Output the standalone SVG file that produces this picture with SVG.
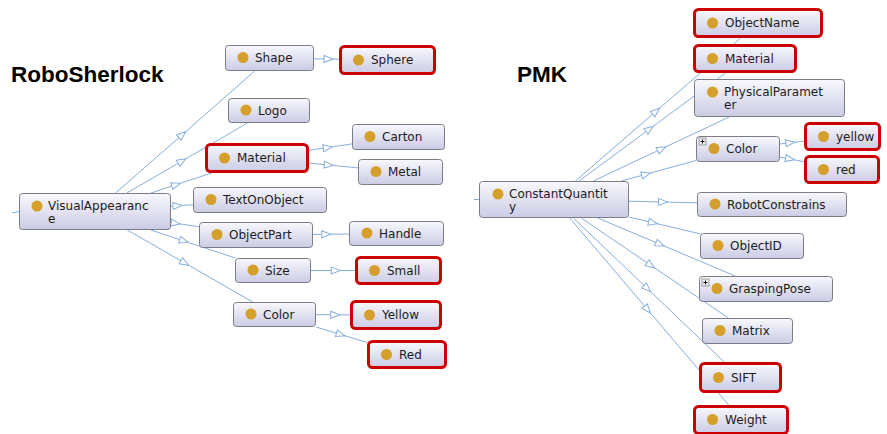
<svg xmlns="http://www.w3.org/2000/svg" width="887" height="434" viewBox="0 0 887 434">
  <defs>
    <linearGradient id="nodeFill" x1="0" y1="0" x2="0" y2="1">
      <stop offset="0" stop-color="#f8f8fd"/>
      <stop offset="1" stop-color="#cbcbe5"/>
    </linearGradient>
    <marker id="isa" markerUnits="userSpaceOnUse" viewBox="0 0 11 9" refX="5.5" refY="4.5" markerWidth="11" markerHeight="9" orient="auto">
      <path d="M1,1 L10,4.5 L1,8 Z" fill="#ffffff" stroke="#86aedb" stroke-width="1"/>
    </marker>
    <style>
      .title { font-family: "Liberation Sans", Arial, sans-serif; font-weight: bold; font-size: 22.5px; fill: #000; }
      .node rect.box { fill: url(#nodeFill); stroke: #7c7c86; stroke-width: 1; }
      .node rect.hl { fill: url(#nodeFill); stroke: #cc0000; stroke-width: 3; }
      .node circle { fill: #d4a02b; }
      .node text { font-family: "DejaVu Sans", Verdana, sans-serif; font-size: 12px; fill: #1c1c1c; }
      .plus rect { fill: #eeeeee; stroke: #8a8a8a; stroke-width: 0.8; }
      .plus path { stroke: #111; stroke-width: 1; fill: none; }
      #edges path { fill: none; stroke: #86aedb; stroke-width: 1; marker-mid: url(#isa); }
      #edges path.stub { marker-mid: none; }
    </style>
  </defs>

  <rect width="887" height="434" fill="#ffffff"/>

  <text class="title" x="11" y="82">RoboSherlock</text>
  <text class="title" x="517" y="82">PMK</text>

  <!-- subclass links: centre-to-centre lines clipped at the boxes, hollow head at the midpoint -->
  <g id="edges">
    <path class="stub" d="M12,213 L19,211.5"/>
    <path d="M115.6,193 L182.25,134.75 L254.6,71"/>
    <path d="M126.9,193 L182,161 L247.5,123"/>
    <path d="M151,193 L176,184.75 L211.6,173"/>
    <path d="M171,206.2 L177.5,205.75 L193,204.7"/>
    <path d="M171,222.6 L175.5,223.25 L199,226.7"/>
    <path d="M150.8,230 L184,241 L235.3,258"/>
    <path d="M127.3,230 L184.75,263 L252.7,302"/>
    <path d="M314,58.8 L328.5,59 L339,59.2"/>
    <path d="M309,150.3 L327.75,147.5 L352,143.9"/>
    <path d="M309,163.1 L328.75,165 L358,167.9"/>
    <path d="M313,234.4 L326.25,234.25 L349,234"/>
    <path d="M311,270.5 L335.75,270.5 L355,270.5"/>
    <path d="M316,314.7 L335.25,314.75 L350,314.9"/>
    <path d="M316,327 L340.75,334.5 L367,342.4"/>

    <path class="stub" d="M474,199.5 L479,199.5"/>
    <path d="M575.4,181 L656,111.25 L740.7,38"/>
    <path d="M579.1,181 L649.5,129 L725.4,73"/>
    <path d="M593.3,181 L661.75,148.75 L729.2,117"/>
    <path d="M621.4,181 L646,174.25 L696,160.5"/>
    <path d="M629,201.2 L663,202 L697,202.8"/>
    <path d="M629,217.1 L653,222.75 L700,233.8"/>
    <path d="M597.8,218 L660,244.25 L735.2,276"/>
    <path d="M581.2,218 L650.75,265.25 L728.4,318"/>
    <path d="M573.4,218 L647.25,288.5 L724.3,362"/>
    <path d="M569.7,218 L647.5,309.5 L728.7,405"/>
    <path d="M780,144 L790.25,142.75 L804,141.1"/>
    <path d="M780,157.1 L790,159 L804,161.7"/>
  </g>

  <!-- RoboSherlock classes -->
  <g id="VisualAppearance" class="node">
    <rect class="box" x="19.5" y="193.5" width="151" height="36" rx="3"/>
    <circle cx="37" cy="206" r="5.5"/>
    <text x="48" y="210">VisualAppearanc</text>
    <text x="48" y="222.5">e</text>
  </g>
  <g id="Shape" class="node">
    <rect class="box" x="225.5" y="45.5" width="88" height="25" rx="3"/>
    <circle cx="243" cy="57.5" r="5.5"/>
    <text x="255" y="62">Shape</text>
  </g>
  <g id="Sphere" class="node">
    <rect class="hl" x="340.5" y="46.5" width="94" height="27" rx="4"/>
    <circle cx="358.5" cy="60" r="5.5"/>
    <text x="371" y="64">Sphere</text>
  </g>
  <g id="Logo" class="node">
    <rect class="box" x="228.5" y="98.5" width="81" height="24" rx="3"/>
    <circle cx="246" cy="110" r="5.5"/>
    <text x="258" y="114.5">Logo</text>
  </g>
  <g id="Material" class="node">
    <rect class="hl" x="206.5" y="144.5" width="101" height="27" rx="4"/>
    <circle cx="224.5" cy="158" r="5.5"/>
    <text x="237" y="162">Material</text>
  </g>
  <g id="Carton" class="node">
    <rect class="box" x="352.5" y="124.5" width="92" height="25" rx="3"/>
    <circle cx="370" cy="136.5" r="5.5"/>
    <text x="382" y="141">Carton</text>
  </g>
  <g id="Metal" class="node">
    <rect class="box" x="358.5" y="159.5" width="84" height="25" rx="3"/>
    <circle cx="376" cy="171.5" r="5.5"/>
    <text x="388" y="176">Metal</text>
  </g>
  <g id="TextOnObject" class="node">
    <rect class="box" x="193.5" y="187.5" width="133" height="25" rx="3"/>
    <circle cx="211" cy="199.5" r="5.5"/>
    <text x="223" y="204">TextOnObject</text>
  </g>
  <g id="ObjectPart" class="node">
    <rect class="box" x="199.5" y="222.5" width="113" height="25" rx="3"/>
    <circle cx="217" cy="234.5" r="5.5"/>
    <text x="229" y="239">ObjectPart</text>
  </g>
  <g id="Handle" class="node">
    <rect class="box" x="349.5" y="221.5" width="94" height="24" rx="3"/>
    <circle cx="367" cy="233" r="5.5"/>
    <text x="379" y="237.5">Handle</text>
  </g>
  <g id="Size" class="node">
    <rect class="box" x="235.5" y="258.5" width="75" height="24" rx="3"/>
    <circle cx="253" cy="270" r="5.5"/>
    <text x="265" y="274.5">Size</text>
  </g>
  <g id="Small" class="node">
    <rect class="hl" x="356.5" y="257.5" width="84" height="26" rx="4"/>
    <circle cx="374.5" cy="270.5" r="5.5"/>
    <text x="387" y="274.5">Small</text>
  </g>
  <g id="Color" class="node">
    <rect class="box" x="233.5" y="302.5" width="82" height="24" rx="3"/>
    <circle cx="251" cy="314" r="5.5"/>
    <text x="263" y="318.5">Color</text>
  </g>
  <g id="Yellow" class="node">
    <rect class="hl" x="351.5" y="301.5" width="89" height="27" rx="4"/>
    <circle cx="369.5" cy="315" r="5.5"/>
    <text x="382" y="319">Yellow</text>
  </g>
  <g id="Red" class="node">
    <rect class="hl" x="368.5" y="341.5" width="77" height="26" rx="4"/>
    <circle cx="386.5" cy="354.5" r="5.5"/>
    <text x="399" y="358.5">Red</text>
  </g>

  <!-- PMK classes -->
  <g id="ConstantQuantity" class="node">
    <rect class="box" x="479.5" y="181.5" width="149" height="36" rx="3"/>
    <circle cx="498" cy="194" r="5.5"/>
    <text x="509" y="198">ConstantQuantit</text>
    <text x="509" y="210.5">y</text>
  </g>
  <g id="ObjectName" class="node">
    <rect class="hl" x="694.5" y="9.5" width="127" height="27" rx="4"/>
    <circle cx="712.5" cy="23" r="5.5"/>
    <text x="725" y="27">ObjectName</text>
  </g>
  <g id="PMK_Material" class="node">
    <rect class="hl" x="694.5" y="45.5" width="101" height="26" rx="4"/>
    <circle cx="712.5" cy="58.5" r="5.5"/>
    <text x="725" y="62.5">Material</text>
  </g>
  <g id="PhysicalParameter" class="node">
    <rect class="box" x="694.5" y="79.5" width="150" height="37" rx="3"/>
    <circle cx="712.5" cy="92" r="5.5"/>
    <text x="724" y="96">PhysicalParamet</text>
    <text x="724" y="108.5">er</text>
  </g>
  <g id="PMK_Color" class="node">
    <rect class="box" x="696.5" y="136.5" width="83" height="25" rx="3"/>
    <g class="plus">
      <rect x="699" y="138" width="7" height="7"/>
      <path d="M700.5,141.5 H704.5 M702.5,139.5 V143.5"/>
    </g>
    <circle cx="714" cy="148.5" r="5.5"/>
    <text x="726" y="153">Color</text>
  </g>
  <g id="yellow" class="node">
    <rect class="hl" x="805.5" y="123.5" width="74" height="26" rx="4"/>
    <circle cx="823.5" cy="136.5" r="5.5"/>
    <text x="836" y="140.5">yellow</text>
  </g>
  <g id="red" class="node">
    <rect class="hl" x="805.5" y="156.5" width="73" height="26" rx="4"/>
    <circle cx="823.5" cy="169.5" r="5.5"/>
    <text x="836" y="173.5">red</text>
  </g>
  <g id="RobotConstrains" class="node">
    <rect class="box" x="697.5" y="192.5" width="149" height="24" rx="3"/>
    <circle cx="715" cy="204" r="5.5"/>
    <text x="727" y="208.5">RobotConstrains</text>
  </g>
  <g id="ObjectID" class="node">
    <rect class="box" x="700.5" y="233.5" width="103" height="25" rx="3"/>
    <circle cx="718" cy="245.5" r="5.5"/>
    <text x="730" y="250">ObjectID</text>
  </g>
  <g id="GraspingPose" class="node">
    <rect class="box" x="699.5" y="276.5" width="133" height="25" rx="3"/>
    <g class="plus">
      <rect x="702" y="279" width="7" height="7"/>
      <path d="M703.5,282.5 H707.5 M705.5,280.5 V284.5"/>
    </g>
    <circle cx="717" cy="288.5" r="5.5"/>
    <text x="729" y="293">GraspingPose</text>
  </g>
  <g id="Matrix" class="node">
    <rect class="box" x="702.5" y="318.5" width="90" height="25" rx="3"/>
    <circle cx="720" cy="330.5" r="5.5"/>
    <text x="732" y="335">Matrix</text>
  </g>
  <g id="SIFT" class="node">
    <rect class="hl" x="700.5" y="363.5" width="80" height="28" rx="4"/>
    <circle cx="718.5" cy="377.5" r="5.5"/>
    <text x="731" y="381.5">SIFT</text>
  </g>
  <g id="Weight" class="node">
    <rect class="hl" x="694.5" y="406.5" width="93" height="27" rx="4"/>
    <circle cx="712.5" cy="419.5" r="5.5"/>
    <text x="725" y="423.5">Weight</text>
  </g>
</svg>
